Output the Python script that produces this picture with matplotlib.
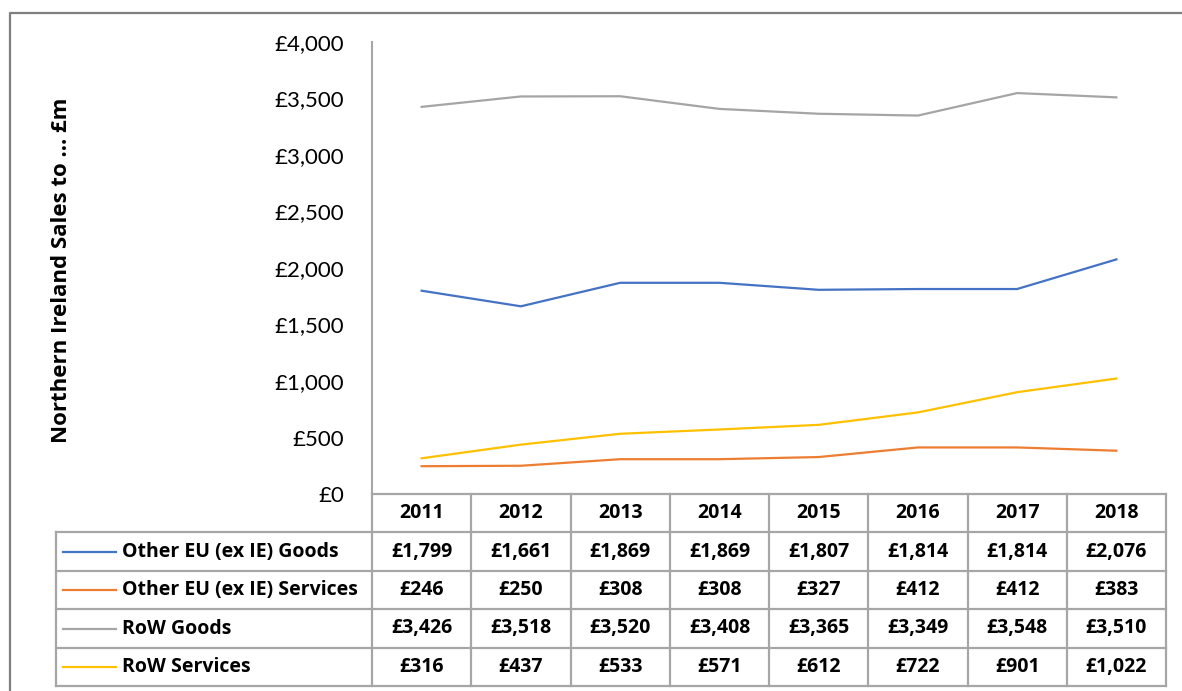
import numpy as np
import matplotlib.pyplot as plt
from matplotlib.lines import Line2D

plt.rcParams['font.family'] = ['Open Sans', 'DejaVu Sans']

years = ['2011', '2012', '2013', '2014', '2015', '2016', '2017', '2018']
series_names = ['Other EU (ex IE) Goods', 'Other EU (ex IE) Services',
                'RoW Goods', 'RoW Services']
eu_goods = [1799, 1661, 1869, 1869, 1807, 1814, 1814, 2076]
eu_services = [246, 250, 308, 308, 327, 412, 412, 383]
row_goods = [3426, 3518, 3520, 3408, 3365, 3349, 3548, 3510]
row_services = [316, 437, 533, 571, 612, 722, 901, 1022]
y_ticks = [0, 500, 1000, 1500, 2000, 2500, 3000, 3500, 4000]

series = [eu_goods, eu_services, row_goods, row_services]
colors = ['#4472C4', '#ED7D31', '#A5A5A5', '#FFC000']
grid_col = '#A6A6A6'

W, H = 1182, 691
fig = plt.figure(figsize=(W / 100, H / 100), dpi=100)

# pixel layout of plot area / table
px_left, px_right = 372, 1166
px_top, px_axis = 42, 494
row_edges = [494, 532, 571, 609, 648, 686]
tbl_left = 56

ax = fig.add_axes([px_left / W, 1 - px_axis / H,
                   (px_right - px_left) / W, (px_axis - px_top) / H])
x = np.arange(len(years))
for vals, c in zip(series, colors):
    ax.plot(x, vals, color=c, lw=1.6, solid_joinstyle='round')
ax.set_xlim(-0.5, len(years) - 0.5)
ax.set_ylim(0, 4000)
ax.set_yticks(y_ticks)
ax.set_yticklabels([f'£{v:,}' for v in y_ticks], fontsize=16, family='Lato')
ax.tick_params(axis='y', length=0, pad=20)
ax.set_xticks([])
for s in ['top', 'right', 'bottom']:
    ax.spines[s].set_visible(False)
ax.spines['left'].set_color(grid_col)
ax.spines['left'].set_linewidth(1.5)
ax.patch.set_alpha(0)

# overlay in pixel coordinates for the data table and frame
ov = fig.add_axes([0, 0, 1, 1])
ov.set_xlim(0, W)
ov.set_ylim(H, 0)
ov.axis('off')
ov.patch.set_alpha(0)

# chart frame
ov.add_line(Line2D([10, 10, W + 5], [H + 5, 13, 13], color='#7F7F7F', lw=1.6))

col_w = (px_right - px_left) / len(years)
col_x = [px_left + i * col_w for i in range(len(years) + 1)]
lw = 1.6

# horizontal table lines
ov.add_line(Line2D([px_left, px_right], [row_edges[0]] * 2, color=grid_col, lw=lw))
for yy in row_edges[1:]:
    ov.add_line(Line2D([tbl_left, px_right], [yy, yy], color=grid_col, lw=lw))
# vertical table lines
for xx in col_x:
    ov.add_line(Line2D([xx, xx], [row_edges[0], row_edges[-1]], color=grid_col, lw=lw))
ov.add_line(Line2D([tbl_left, tbl_left], [row_edges[1], row_edges[-1]], color=grid_col, lw=lw))

fs = 14
# header row
for i, yr in enumerate(years):
    ov.text(col_x[i] + col_w / 2, (row_edges[0] + row_edges[1]) / 2, yr,
            ha='center', va='center', fontsize=fs, fontweight='bold')

# body rows
for r, (name, vals, c) in enumerate(zip(series_names, series, colors)):
    yc = (row_edges[r + 1] + row_edges[r + 2]) / 2
    ov.add_line(Line2D([63, 116], [yc, yc], color=c, lw=1.6))
    ov.text(122, yc, name, ha='left', va='center', fontsize=fs, fontweight='bold')
    for i, v in enumerate(vals):
        ov.text(col_x[i] + col_w / 2, yc, f'£{v:,}', ha='center', va='center',
                fontsize=fs, fontweight='bold')

fig.text(62 / W, 1 - 270 / H, 'Northern Ireland Sales to ... £m', rotation=90,
         ha='center', va='center', fontsize=16, fontweight='bold')

fig.savefig('out.png', dpi=100)
